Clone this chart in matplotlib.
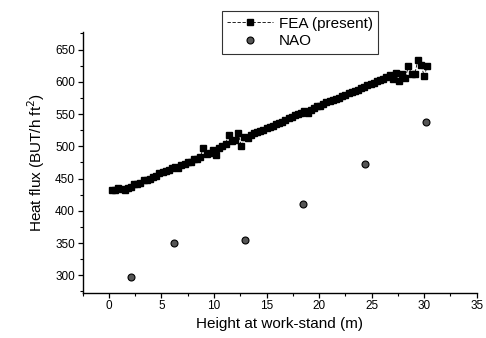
import matplotlib
matplotlib.use("Agg")
import matplotlib.pyplot as plt
from matplotlib.ticker import MultipleLocator

plt.rcParams['font.family'] = ['Liberation Sans', 'DejaVu Sans']

fea_x = [0.3, 0.6, 0.9, 1.2, 1.5, 1.8, 2.1, 2.4, 2.7, 3.0,
         3.3, 3.6, 3.9, 4.2, 4.5, 4.8, 5.1, 5.4, 5.7, 6.0,
         6.3, 6.6, 6.9, 7.2, 7.5, 7.8, 8.1, 8.4, 8.7, 9.0,
         9.3, 9.6, 9.9, 10.2, 10.5, 10.8, 11.1, 11.4, 11.7, 12.0,
         12.3, 12.6, 12.9, 13.2, 13.5, 13.8, 14.1, 14.4, 14.7, 15.0,
         15.3, 15.6, 15.9, 16.2, 16.5, 16.8, 17.1, 17.4, 17.7, 18.0,
         18.3, 18.6, 18.9, 19.2, 19.5, 19.8, 20.1, 20.4, 20.7, 21.0,
         21.3, 21.6, 21.9, 22.2, 22.5, 22.8, 23.1, 23.4, 23.7, 24.0,
         24.3, 24.6, 24.9, 25.2, 25.5, 25.8, 26.1, 26.4, 26.7, 27.0,
         27.3, 27.6, 27.9, 28.2, 28.5, 28.8, 29.1, 29.4, 29.7, 30.0,
         30.3]
fea_y = [432, 433, 435, 434, 433, 436, 437, 441, 442, 443,
         447, 448, 450, 452, 454, 458, 460, 462, 463, 466,
         468, 466, 471, 472, 475, 476, 480, 481, 484, 498,
         488, 490, 494, 486, 497, 500, 504, 518, 508, 510,
         520, 500, 515, 513, 517, 520, 522, 524, 526, 528,
         530, 531, 534, 536, 538, 540, 544, 546, 548, 550,
         552, 554, 552, 557, 560, 562, 562, 565, 568, 570,
         572, 574, 575, 578, 580, 583, 584, 586, 588, 590,
         592, 595, 596, 598, 601, 603, 605, 607, 610, 604,
         614, 601, 612, 606, 624, 612, 612, 634, 626, 609,
         625]

nao_x = [2.1, 6.2, 12.95, 18.5, 24.4, 30.2]
nao_y = [297, 350, 355, 411, 472, 537]

fig = plt.figure(figsize=(4.86, 3.38), dpi=100)
ax = fig.add_axes([0.170, 0.134, 0.811, 0.771])

ax.plot(fea_x, fea_y, linestyle=(0, (4, 2)), linewidth=0.6, color='black',
        marker='s', markersize=4.6, markerfacecolor='black',
        markeredgecolor='black', label='FEA (present)')
ax.plot(nao_x, nao_y, linestyle='none', color='black',
        marker='o', markersize=5, markerfacecolor='#555555',
        markeredgecolor='black', markeredgewidth=0.8, label='NAO')

ax.set_xlim(-2.5, 35)
ax.set_ylim(273, 677)
ax.xaxis.set_major_locator(MultipleLocator(5))
ax.xaxis.set_minor_locator(MultipleLocator(2.5))
ax.yaxis.set_major_locator(MultipleLocator(50))
ax.yaxis.set_minor_locator(MultipleLocator(25))
ax.set_yticks(range(300, 651, 50))

for s in ['top', 'right']:
    ax.spines[s].set_visible(False)
for s in ['left', 'bottom']:
    ax.spines[s].set_linewidth(1.0)

ax.tick_params(axis='both', which='major', direction='out', length=3.5,
               width=0.9, labelsize=8.5, pad=2)
ax.tick_params(axis='both', which='minor', direction='out', length=2,
               width=0.8)

ax.set_xlabel('Height at work-stand (m)', fontsize=11, labelpad=3)
ax.set_ylabel('Heat flux (BUT/h ft$^2$)', fontsize=11, labelpad=6)

leg = ax.legend(loc='upper left', bbox_to_anchor=(0.354, 1.08), fontsize=11,
                frameon=True, fancybox=False, edgecolor='black',
                borderaxespad=0, handlelength=3.0, borderpad=0.35,
                labelspacing=0.25, handletextpad=0.35)
leg.get_frame().set_linewidth(0.8)

fig.savefig('out.png', dpi=100)
